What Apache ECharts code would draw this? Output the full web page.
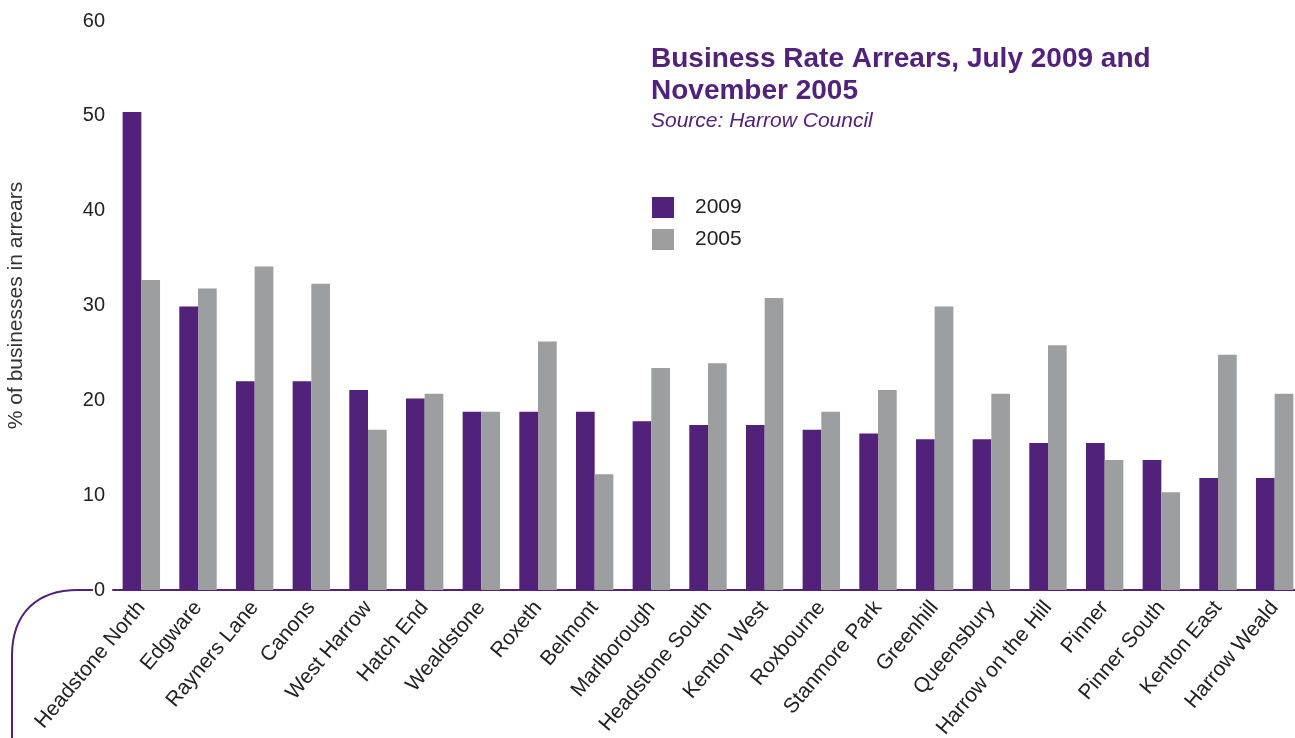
<!DOCTYPE html>
<html>
<head>
<meta charset="utf-8">
<script src="https://cdn.jsdelivr.net/npm/echarts@6/dist/echarts.min.js"></script>
<style>
  html, body { margin: 0; padding: 0; background: #fff; }
  #chart { width: 1295px; height: 738px; }
</style>
</head>
<body>
<div id="chart"></div>
<script>
// wards, in the order they appear
const wards = ['Headstone North', 'Edgware', 'Rayners Lane', 'Canons', 'West Harrow',
  'Hatch End', 'Wealdstone', 'Roxeth', 'Belmont', 'Marlborough', 'Headstone South',
  'Kenton West', 'Roxbourne', 'Stanmore Park', 'Greenhill', 'Queensbury',
  'Harrow on the Hill', 'Pinner', 'Pinner South', 'Kenton East', 'Harrow Weald']

// % of businesses in arrears
const arrears2009 = [50.4, 29.9, 22.0, 22.0, 21.1, 20.2, 18.8, 18.8, 18.8, 17.8, 17.4,
  17.4, 16.9, 16.5, 15.9, 15.9, 15.5, 15.5, 13.7, 11.8, 11.8]
const arrears2005 = [32.7, 31.8, 34.1, 32.3, 16.9, 20.7, 18.8, 26.2, 12.2, 23.4, 23.9,
  30.8, 18.8, 21.1, 29.9, 20.7, 25.8, 13.7, 10.3, 24.8, 20.7]

const yTicks = { min: 0, max: 60, interval: 10 }

const PURPLE = '#52227a'
const GREY = '#9d9ea0'
const FONT = '"Liberation Sans", Arial, Helvetica, sans-serif'

let chart = echarts.init(document.getElementById('chart'), null, { renderer: 'canvas' })

chart.setOption({
  animation: false,
  textStyle: { fontFamily: FONT },
  title: {
    text: 'Business Rate Arrears, July 2009 and\nNovember 2005',
    subtext: 'Source: Harrow Council',
    left: 646,
    top: 38,
    itemGap: 4,
    textStyle: {
      color: PURPLE, fontSize: 28, fontWeight: 'bold', lineHeight: 32, fontFamily: FONT
    },
    subtextStyle: {
      color: PURPLE, fontSize: 21, fontStyle: 'italic', fontFamily: FONT
    }
  },
  legend: {
    orient: 'vertical',
    left: 647,
    top: 192,
    itemWidth: 22,
    itemHeight: 21,
    itemGap: 11,
    icon: 'rect',
    textStyle: { color: '#222', fontSize: 21, padding: [0, 0, 0, 16] },
    data: ['2009', '2005']
  },
  grid: {
    left: 113, right: -8, top: 21, bottom: 148,
    containLabel: false, outerBoundsMode: 'none'
  },
  xAxis: {
    type: 'category',
    data: wards,
    axisLine: { lineStyle: { color: PURPLE, width: 2 } },
    axisTick: { show: false },
    axisLabel: {
      rotate: 50,
      interval: 0,
      margin: 14,
      color: '#222',
      fontSize: 21
    }
  },
  yAxis: {
    type: 'value',
    min: yTicks.min,
    max: yTicks.max,
    interval: yTicks.interval,
    name: '% of businesses in arrears',
    nameLocation: 'middle',
    nameGap: 86,
    nameTextStyle: { color: '#333', fontSize: 21 },
    axisLine: { show: false },
    axisTick: { show: false },
    splitLine: { show: false },
    axisLabel: { color: '#222', fontSize: 20, margin: 8 }
  },
  series: [
    {
      name: '2009',
      type: 'bar',
      data: arrears2009,
      barGap: '0%',
      barCategoryGap: '34%',
      itemStyle: { color: PURPLE }
    },
    {
      name: '2005',
      type: 'bar',
      data: arrears2005,
      itemStyle: { color: GREY }
    }
  ],
  graphic: [
    // curved lead-in of the baseline
    {
      type: 'polyline',
      shape: { points: [[93, 590], [78, 590]] },
      style: { stroke: PURPLE, lineWidth: 2, fill: null }
    },
    {
      type: 'bezierCurve',
      shape: { x1: 78, y1: 590, cpx1: 38, cpy1: 590, cpx2: 12, cpy2: 612, x2: 12, y2: 656 },
      style: { stroke: PURPLE, lineWidth: 2, fill: null }
    },
    {
      type: 'polyline',
      shape: { points: [[12, 656], [12, 740]] },
      style: { stroke: PURPLE, lineWidth: 2, fill: null }
    }
  ]
})
</script>
</body>
</html>
